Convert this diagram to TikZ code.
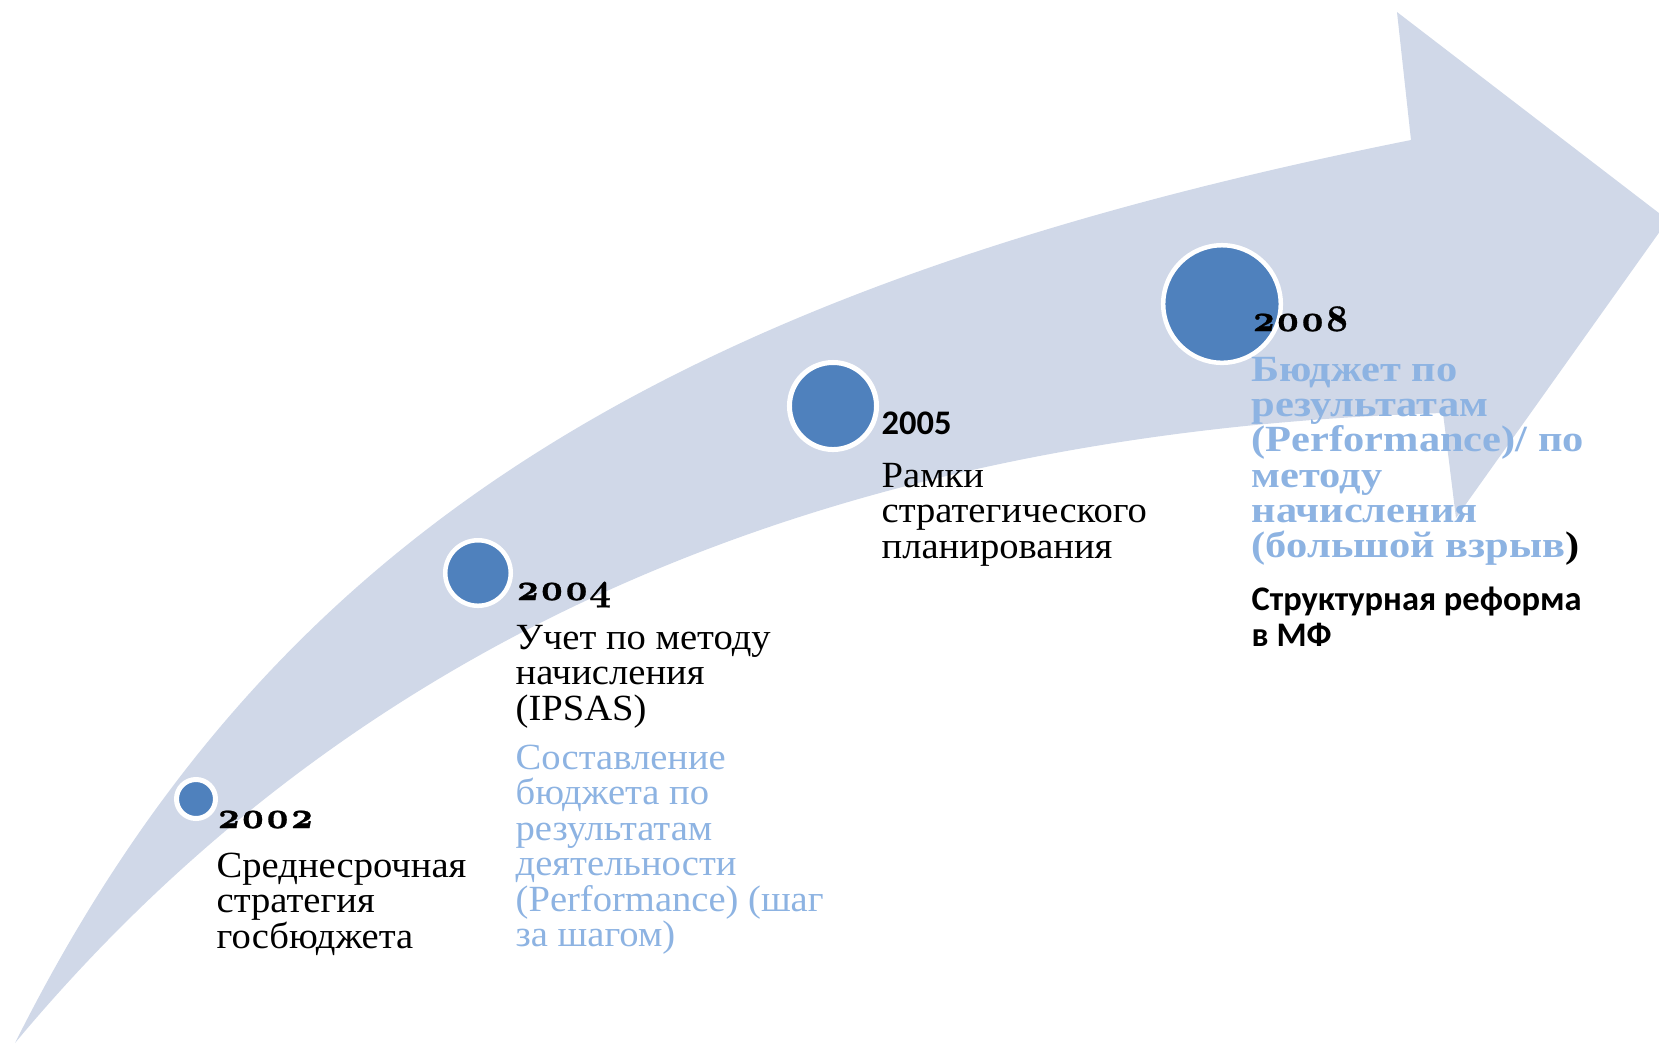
\documentclass[tikz,border=0pt]{standalone}
\usepackage{fontspec}
\setmainfont{Liberation Serif}[FakeStretch=1.045]
\newfontfamily\boldserif{Liberation Serif Bold}[FakeStretch=1.15]
\newfontfamily\yearfont[Numbers=OldStyle, FakeBold=0.8]{Latin Modern Roman}
\newfontfamily\sansb{Carlito}
\definecolor{band}{HTML}{D0D8E8}
\definecolor{dot}{HTML}{4F81BD}
\definecolor{lblue}{HTML}{8DB3E2}
\newcommand\lns[1]{\vtop{\lineskiplimit=-1000pt\relax #1}}
\begin{document}
\begin{tikzpicture}[x=0.01cm,y=-0.01cm,
  dotstyle/.style={circle, fill=dot, draw=white, inner sep=0pt, outer sep=0pt},
  yr/.style={anchor=base west, inner sep=0pt, font={\yearfont\bfseries\fontsize{10.7}{12}\selectfont}},
  yrsans/.style={anchor=base west, inner sep=0pt, font={\sansb\bfseries\fontsize{9.8}{10.5}\selectfont}},
  body/.style={anchor=base west, inner sep=0pt, font={\fontsize{10.5}{10.1}\selectfont}},
  bodyblue/.style={body, text=lblue},
  boldblue/.style={body, text=lblue, font={\boldserif\fontsize{10.5}{10.05}\selectfont}},
  sansbody/.style={anchor=base west, inner sep=0pt, font={\sansb\bfseries\fontsize{9.8}{10.5}\selectfont}}]
\useasboundingbox (0,0) rectangle (1659,1044);
\clip (0,0) rectangle (1659,1044);
% curved arrow
\coordinate (tail) at (15,1043);
\coordinate (ucorner) at (1411,140);
\coordinate (htop) at (1397,12);
\coordinate (htip) at (1668,220);
\coordinate (hbot) at (1456,518);
\coordinate (lcorner) at (1443,413);
\fill[band] (tail) .. controls (265,544) and (656,291) .. (ucorner)
  -- (htop) -- (htip) -- (hbot) -- (lcorner)
  .. controls (823,432) and (351,640) .. (tail) -- cycle;
% dots
\node[dotstyle, minimum size=0.39cm, line width=0.05cm] (d2002) at (196,799) {};
\node[dotstyle, minimum size=0.655cm, line width=0.045cm] (d2004) at (478,573) {};
\node[dotstyle, minimum size=0.87cm, line width=0.05cm] (d2005) at (833,406) {};
\node[dotstyle, minimum size=1.175cm, line width=0.045cm] (d2008) at (1222,304) {};
% texts
\node[yr] (y2002) at (216,828) {2002};
\node[body] (t2002) at (216,877) {\lns{\hbox{Среднесрочная}\hbox{стратегия}\hbox{госбюджета}}};
\node[yr] (y2004) at (515,600) {2004};
\node[body] (t2004) at (515,649) {\lns{\hbox{Учет по методу}\hbox{начисления}\hbox{(IPSAS)}}};
\node[bodyblue] (b2004) at (515,769) {\lns{\hbox{Составление}\hbox{бюджета по}\hbox{результатам}\hbox{деятельности}\hbox{(Performance) (шаг}\hbox{за шагом)}}};
\node[yrsans] (y2005) at (881,434) {2005};
\node[body] (t2005) at (881,487) {\lns{\hbox{Рамки}\hbox{стратегического}\hbox{планирования}}};
\node[yr] (y2008) at (1251,331) {2008};
\node[boldblue] (b2008) at (1251,381) {\lns{\hbox{Бюджет по}\hbox{результатам}\hbox{(Performance)/ по}\hbox{методу}\hbox{начисления}\hbox{(большой взрыв\textcolor{black}{)}}}};
\node[sansbody] (s2008) at (1251,610) {\lns{\hbox{Структурная реформа}\hbox{в МФ}}};
\end{tikzpicture}
\end{document}
